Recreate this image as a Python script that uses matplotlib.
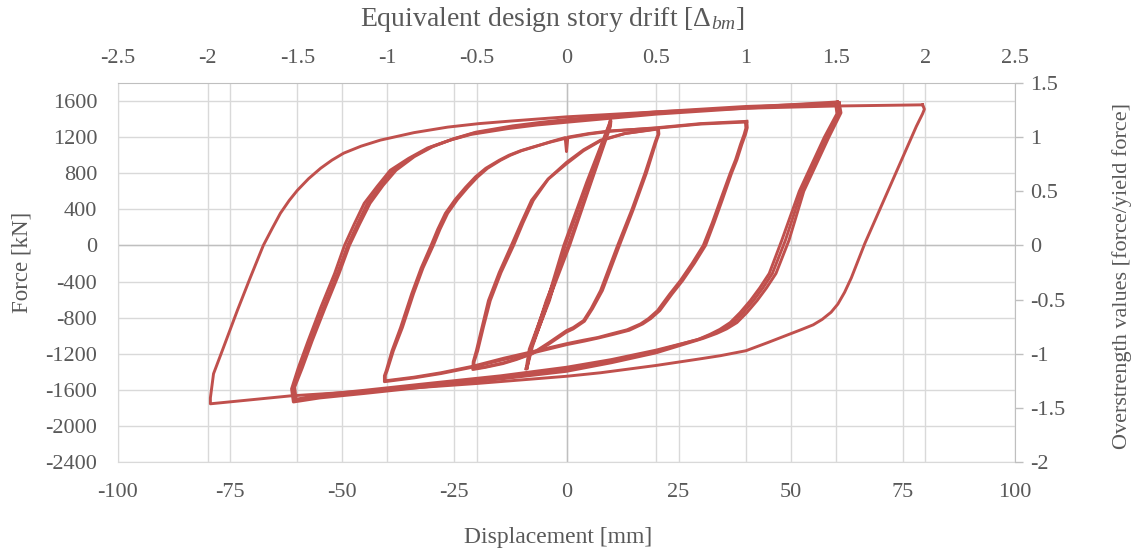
import matplotlib.pyplot as plt
from matplotlib.ticker import FixedLocator

plt.rcParams["font.family"] = ["Liberation Serif", "DejaVu Serif"]
plt.rcParams["mathtext.fontset"] = "custom"
plt.rcParams["mathtext.rm"] = "Liberation Serif"
plt.rcParams["mathtext.it"] = "Liberation Serif:italic"
plt.rcParams["axes.unicode_minus"] = False

# Axis ticks
disp_ticks = [-100, -75, -50, -25, 0, 25, 50, 75, 100]
force_ticks = [-2400, -2000, -1600, -1200, -800, -400, 0, 400, 800, 1200, 1600]
drift_ticks = [-2.5, -2, -1.5, -1, -0.5, 0, 0.5, 1, 1.5, 2, 2.5]
ratio_ticks = [-2, -1.5, -1, -0.5, 0, 0.5, 1, 1.5]
mm_per_drift = 40
yield_force = 1200

# Hysteresis cycles: displacement [mm], force [kN]
c10a_x = [-9.0, -8.3, -4.3, -0.6, 4.5, 9.5, 9.8, 9.7, 5.0, 0.4, -4.5, -8.0, -8.9, -9.0]
c10a_f = [-1367, -1150, -611, 0, 700, 1340, 1395, 1330, 650, 0, -611, -1150, -1367, -1367]
c10b_x = [-8.8, -8.0, -3.8, -0.3, 4.8, 9.6, 9.9, 9.8, 5.5, 0.7, -4.0, -7.6, -8.8]
c10b_f = [-1360, -1150, -611, 0, 700, 1350, 1380, 1320, 700, 0, -611, -1120, -1360]

c20a_x = [20.3, 20.4, 19.8, 17.5, 14.6, 11.4, 9.5, 7.6, 5.5, 3.8, 1.5, 0.0, -4.0, -7.4,
          -11.0, -14.0, -18.0, -20.7,
          -20.6, -19.8, -18.5, -17.0, -14.6, -11.8, -9.7, -7.4, -4.0, 0.0, 3.8, 7.6,
          13.0, 20.3]
c20a_f = [1289, 1230, 1150, 800, 400, 0, -250, -500, -700, -833, -910, -944, -1080, -1189,
          -1255, -1300, -1345, -1367,
          -1290, -1167, -900, -611, -300, 0, 250, 500, 740, 920, 1060, 1167,
          1240, 1289]
c20b_x = [20.5, 20.6, 20.0, 17.8, 14.9, 11.8, 9.9, 8.0, 5.8, 4.0, 1.5, 0.0, -4.0, -7.6,
          -11.2, -14.2, -18.2, -20.9,
          -20.8, -20.1, -18.8, -17.4, -15.0, -12.3, -10.1, -7.8, -4.2, 0.0, 3.8, 7.6,
          13.0, 20.5]
c20b_f = [1295, 1235, 1150, 800, 400, 0, -250, -500, -700, -840, -925, -960, -1095, -1200,
          -1265, -1310, -1352, -1375,
          -1290, -1167, -900, -611, -300, 0, 250, 500, 730, 905, 1050, 1160,
          1240, 1295]

c40a_x = [39.9, 40.0, 39.6, 38.8, 37.7, 36.5, 34.3, 32.5, 30.5, 28.0, 25.4, 23.0, 20.3,
          18.3, 16.5, 13.5, 10.0, 7.0, 3.8, 0.0, -7.0, -14.0, -21.0, -28.0, -34.0, -40.4,
          -40.4, -40.0, -38.6, -36.6, -34.1, -32.0, -29.7, -28.2, -26.5, -24.3, -22.0,
          -19.8, -17.6, -14.7, -12.5, -10.0, -7.4, -3.5, -0.3, 0.0, 0.3, 5.0, 9.8, 20.3,
          29.9, 38.0, 39.9]
c40a_f = [1367, 1300, 1230, 1120, 950, 800, 500, 250, 0, -200, -389, -540, -722,
          -810, -870, -935, -980, -1020, -1050, -1089, -1170, -1250, -1340, -1411, -1460,
          -1500,
          -1440, -1389, -1167, -911, -533, -250, 0, 180, 356, 510, 644,
          760, 855, 944, 1000, 1050, 1089, 1150, 1195, 1040, 1200, 1240, 1270, 1300,
          1345, 1363, 1367]
c40b_x = [40.2, 40.3, 39.9, 39.1, 38.0, 36.8, 34.7, 32.9, 31.0, 28.5, 25.9, 23.5, 20.8,
          18.8, 17.0, 14.0, 10.5, 7.2, 4.0, 0.0, -7.0, -14.0, -21.0, -28.0, -34.0, -40.6,
          -40.6, -40.2, -38.9, -37.0, -34.5, -32.4, -30.2, -28.7, -27.0, -24.8, -22.5,
          -20.3, -18.0, -15.0, -12.8, -10.2, -7.6, -3.6, 0.0, 5.0, 9.8, 20.3, 29.9, 38.0,
          40.2]
c40b_f = [1375, 1305, 1230, 1120, 950, 800, 500, 250, 0, -200, -389, -540, -722,
          -810, -870, -940, -985, -1025, -1060, -1100, -1185, -1265, -1350, -1420, -1468,
          -1510,
          -1445, -1389, -1167, -911, -533, -250, 0, 180, 356, 510, 644,
          760, 855, 944, 1000, 1050, 1089, 1145, 1190, 1235, 1265, 1305, 1350, 1370,
          1375]

c60a_x = [60.4, 60.8, 58.0, 55.2, 52.4, 48.8, 45.9, 43.8, 41.7, 39.4, 37.2, 35.0, 32.8,
          29.9, 20.0, 10.0, 0.0, -14.7, -30.0, -45.0, -55.0, -60.6,
          -60.9, -59.3, -57.1, -54.2, -51.1, -48.8, -46.6, -44.4, -41.5, -38.6, -34.5,
          -30.3, -25.5, -20.7, -12.5, -6.0, 0.0, 20.0, 40.0, 60.4]
c60a_f = [1590, 1480, 1200, 900, 600, 56, -311, -470, -611, -745, -855, -925, -978,
          -1033, -1170, -1280, -1370, -1460, -1540, -1620, -1670, -1722,
          -1578, -1356, -1056, -689, -311, 0, 240, 467, 660, 833, 975,
          1089, 1175, 1244, 1311, 1350, 1380, 1470, 1530, 1590]
c60b_x = [60.8, 61.2, 58.5, 55.7, 52.9, 49.6, 46.7, 44.6, 42.5, 40.2, 38.0, 35.7, 33.5,
          30.5, 20.0, 10.0, 0.0, -14.7, -30.0, -45.0, -55.0, -60.9,
          -61.3, -59.8, -57.6, -54.8, -51.7, -49.5, -47.3, -45.1, -42.2, -39.3, -35.2,
          -31.0, -26.1, -21.3, -13.0, -6.5, 0.0, 20.0, 40.0, 60.8]
c60b_f = [1580, 1470, 1200, 900, 600, 56, -311, -470, -611, -745, -855, -925, -975,
          -1030, -1190, -1300, -1395, -1480, -1560, -1640, -1690, -1735,
          -1590, -1356, -1056, -689, -311, 0, 240, 467, 655, 833, 965,
          1080, 1165, 1230, 1295, 1335, 1365, 1455, 1520, 1580]
c60c_x = [60.0, 60.3, 57.5, 54.7, 51.9, 48.0, 45.2, 43.1, 41.0, 38.7, 36.5, 34.2, 32.0,
          29.2, 20.0, 10.0, 0.0, -14.7, -30.0, -45.0, -55.0, -60.3,
          -60.6, -58.9, -56.7, -53.8, -50.7, -48.4, -46.1, -43.8, -40.9, -38.0, -33.9,
          -29.8, -25.0, -20.2, -12.0, -5.6, 0.0, 20.0, 40.0, 60.0]
c60c_f = [1575, 1460, 1200, 900, 600, 56, -311, -470, -611, -745, -855, -930, -985,
          -1045, -1160, -1265, -1350, -1445, -1525, -1605, -1655, -1705,
          -1570, -1356, -1056, -689, -311, 0, 240, 467, 665, 833, 985,
          1095, 1185, 1255, 1325, 1365, 1395, 1480, 1540, 1575]

c80_x = [79.4, 79.8, 79.4, 78.0, 76.0, 74.0, 72.0, 70.0, 68.0, 66.5, 65.0, 63.5, 62.0,
         60.5, 59.0, 57.0, 55.0, 52.5, 50.0, 44.8, 40.0,
         34.3, 29.9, 20.0, 7.6, 0.0, -20.0, -40.0, -61.5, -79.4,
         -79.4, -78.7, -76.5, -73.4, -70.5, -67.6, -65.6, -63.8, -61.8, -60.0, -57.5,
         -54.8, -52.3, -49.7, -45.8, -41.5, -34.0, -26.5, -19.5, -12.5, 0.0, 20.0, 40.0,
         60.0, 79.4]
c80_f = [1558, 1510, 1460, 1319, 1093, 867, 641, 415, 189, 20, -170, -360, -520,
         -650, -740, -820, -880, -930, -978, -1078, -1167,
         -1222, -1256, -1330, -1411, -1450, -1530, -1600, -1667, -1755,
         -1689, -1422, -1133, -722, -356, 0, 190, 356, 500, 611, 740,
         856, 945, 1022, 1100, 1167, 1250, 1311, 1350, 1378, 1425, 1480, 1520,
         1545, 1558]

cycles = [(c10a_x, c10a_f), (c10b_x, c10b_f), (c20a_x, c20a_f), (c20b_x, c20b_f),
          (c40a_x, c40a_f), (c40b_x, c40b_f), (c60a_x, c60a_f), (c60b_x, c60b_f),
          (c60c_x, c60c_f), (c80_x, c80_f)]

RED = "#C0504D"
TEXT = "#595959"
GRID = "#D9D9D9"
AXIS = "#BFBFBF"


def fmt(v):
    return "{:g}".format(v)


fig = plt.figure(figsize=(11.34, 5.55), dpi=100)
ax = fig.add_axes([118 / 1134, 1 - 462 / 555, (1015 - 118) / 1134, (462 - 83) / 555])

for x, f in cycles:
    ax.plot(x, f, color=RED, lw=2.1, solid_joinstyle="round", zorder=3)

ax.set_xlim(-100, 100)
ax.set_ylim(-2400, 1800)
ax.set_xticks(disp_ticks)
ax.set_xticklabels([fmt(v) for v in disp_ticks])
ax.set_yticks(force_ticks)
ax.set_yticklabels([fmt(v) for v in force_ticks])
ax.xaxis.set_minor_locator(FixedLocator([d * mm_per_drift for d in drift_ticks]))
ax.grid(which="both", axis="x", color=GRID, lw=1.0, zorder=0)
ax.grid(which="major", axis="y", color=GRID, lw=1.0, zorder=0)
ax.set_axisbelow(True)
ax.axhline(0, color=AXIS, lw=1.0, zorder=1)
ax.axvline(0, color=AXIS, lw=1.0, zorder=1)
ax.tick_params(which="both", length=0, labelsize=16, labelcolor=TEXT)
ax.tick_params(axis="x", pad=15)
ax.tick_params(axis="y", pad=15)
for s in ["left", "bottom"]:
    ax.spines[s].set_color(GRID)
for s in ["top", "right"]:
    ax.spines[s].set_visible(False)

# top axis: drift
ax_top = ax.twiny()
ax_top.set_xlim(-100 / mm_per_drift, 100 / mm_per_drift)
ax_top.set_xticks(drift_ticks)
ax_top.set_xticklabels([fmt(v) for v in drift_ticks])
ax_top.tick_params(length=0, labelsize=16, labelcolor=TEXT, pad=11)
for s in ["left", "bottom", "right"]:
    ax_top.spines[s].set_visible(False)
ax_top.spines["top"].set_color(AXIS)

# right axis: overstrength
ax_r = ax.twinx()
ax_r.set_ylim(-2400 / yield_force, 1800 / yield_force)
ax_r.set_yticks(ratio_ticks)
ax_r.set_yticklabels([fmt(v) for v in ratio_ticks])
ax_r.tick_params(direction="out", length=6, width=1, color=AXIS, labelsize=16,
                 labelcolor=TEXT, pad=5)
for s in ["left", "bottom", "top"]:
    ax_r.spines[s].set_visible(False)
ax_r.spines["right"].set_color(AXIS)

fig.text(558 / 1134, 1 - 537 / 555, "Displacement [mm]", ha="center", va="center",
         fontsize=17, color=TEXT)
fig.text(22 / 1134, 1 - 262 / 555, "Force [kN]", ha="center", va="center",
         rotation=90, fontsize=16.5, color=TEXT)
fig.text(552 / 1134, 1 - 19 / 555, r"Equivalent design story drift [$\Delta_{bm}$]",
         ha="center", va="center", fontsize=20, color=TEXT)
fig.text(1122 / 1134, 1 - 276 / 555, "Overstrength values [force/yield force]",
         ha="center", va="center", rotation=90, fontsize=16, color=TEXT)

fig.savefig("out.png", dpi=100)
